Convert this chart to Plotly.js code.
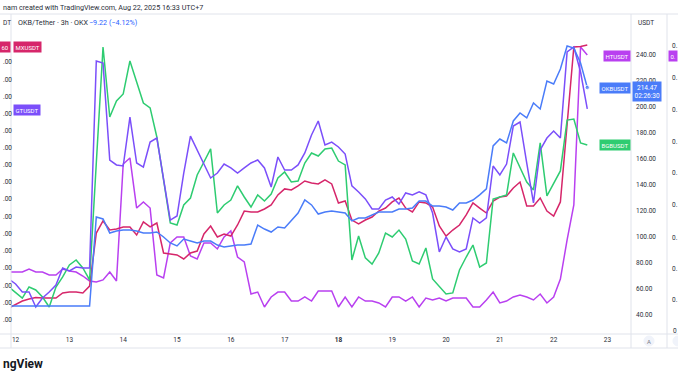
<!DOCTYPE html>
<html><head><meta charset="utf-8">
<script src="https://cdn.plot.ly/plotly-3.0.1.min.js"></script>
<style>html,body{margin:0;padding:0;background:#fff;overflow:hidden}#chart{width:678px;height:381px}</style>
</head><body><div id="chart"></div>
<script>
// ---- data (3h bars, first bar 2025-08-11 21:00) ----
const dayLabels = ['12','13','14','15','16','17','18','19','20','21','22','23'];
const priceTicks = [40,60,80,100,120,140,160,180,200,220,240];
const seriesNames = ['MXUSDT','GTUSDT','HTUSDT','BGBUSDT','OKBUSDT'];

const OKB = [46.7,46.7,46.7,46.7,46.7,46.7,46.7,46.7,46.7,46.7,46.7,46.7,46.7,
 115.0,113.5,102.7,104.3,105.0,105.0,104.3,102.7,102.7,103.5,
 99.7,95.1,92.8,98.1,96.6,95.1,96.6,96.6,93.5,92.0,
 92.8,93.5,93.5,94.3,108.9,105.8,103.5,107.4,106.6,112.7,
 118.1,128.1,124.3,117.3,118.9,119.6,118.9,118.1,112.0,114.3,
 114.3,116.6,118.9,118.9,118.9,121.2,121.2,121.9,127.3,127.3,
 123.5,123.5,122.7,120.4,125.8,125.8,128.1,132.0,136.6,169.6,
 174.9,171.9,188.8,194.9,191.1,202.6,198.0,219.5,217.2,228.7,
 246.4,244.8,233.3,214.47];

const MX = [45.2,47.9,50.5,52.1,53.2,52.8,52.8,52.8,56.7,57.4,57.4,56.7,62.0,
 102.7,112.0,105.0,105.8,107.4,107.4,101.2,111.2,107.4,110.4,
 87.4,86.6,85.9,82.8,87.4,88.9,102.0,108.1,99.7,102.0,
 100.4,108.9,119.6,118.9,118.9,121.2,124.3,132.0,136.6,135.8,
 138.9,142.7,141.2,140.4,143.5,140.4,125.8,127.3,112.7,109.7,
 112.7,115.0,119.6,121.9,126.6,129.6,121.9,118.9,126.6,125.8,
 122.7,108.1,100.4,105.0,108.9,116.6,125.8,121.9,118.1,127.3,
 130.4,131.2,137.3,141.9,123.5,123.5,129.6,119.6,115.8,126.6,
 186.0,245.6,246.0,247.2];

const GT = [67.4,63.6,57.4,57.4,45.9,52.8,57.4,62.8,75.9,73.6,76.6,75.9,75.9,
 234.9,233.3,158.8,155.0,154.2,191.8,156.5,153.4,172.6,175.7,
 145.8,112.7,115.8,148.8,177.2,166.5,155.0,145.0,148.8,155.7,
 152.7,148.8,152.7,156.5,158.8,152.7,138.1,161.1,151.1,151.1,
 155.0,164.2,178.0,188.8,170.3,172.6,168.8,163.4,138.9,134.3,
 128.9,121.2,121.2,128.1,130.4,125.0,133.5,132.0,134.3,132.0,
 118.1,88.2,99.7,90.5,88.2,90.5,114.3,110.4,114.3,154.2,
 147.3,155.7,184.9,188.0,156.5,125.8,166.5,175.7,181.1,175.7,
 241.8,245.6,226.4,198.0];

const HT = [72.8,72.8,72.8,75.1,72.8,72.8,70.5,70.5,75.1,73.6,72.8,69.7,65.9,
 65.1,66.7,72.8,65.9,155.7,160.4,121.9,126.6,121.9,70.5,
 68.2,95.1,99.7,99.7,85.1,82.8,95.1,95.1,90.5,99.7,
 104.3,84.3,80.5,55.9,57.4,45.9,53.6,57.4,57.4,50.5,
 50.5,53.6,50.5,58.2,58.2,58.2,45.9,53.6,45.9,53.6,
 50.5,50.5,49.0,45.9,53.6,53.6,50.5,53.6,45.9,52.8,
 51.3,52.8,50.5,52.8,52.8,52.8,45.9,45.9,51.3,57.4,
 49.0,50.5,53.6,55.1,53.6,51.3,55.9,49.0,53.6,67.4,
 97.4,124.3,245.6,239.5];

const BGB = [61.3,56.7,52.8,61.3,59.0,53.6,45.9,61.3,69.0,78.2,82.0,75.9,66.7,
 156.5,245.6,191.8,204.1,209.5,234.9,218.7,202.6,198.8,176.5,
 143.5,110.4,108.9,124.3,129.6,147.3,157.3,167.3,118.1,124.3,
 128.1,138.9,130.4,122.7,132.0,127.3,132.7,145.0,149.6,141.9,
 142.7,156.5,164.2,161.9,167.3,168.0,158.0,155.0,82.0,100.4,
 83.6,78.9,87.4,102.7,99.7,105.0,98.1,81.3,78.9,91.2,
 67.4,62.0,55.9,56.7,74.3,84.3,93.5,76.6,79.7,128.9,
 130.4,132.0,164.2,153.4,141.9,135.8,171.9,131.2,141.2,150.4,
 189.5,190.3,171.9,170.3];

// ---- styling ----
const COL = {MXUSDT:'#d6266a', GTUSDT:'#7b4ffa', HTUSDT:'#b940f0', BGBUSDT:'#2ecc71', OKBUSDT:'#4a7cf9'};
const FONT = 'Roboto, "Liberation Sans", Arial, sans-serif';
const TXT = '#2a2e39';
const GRID = '#e0e3eb';

const START_UTC = Date.UTC(2025,7,11,21,0);
const STEP_MS = 3*3600*1000;
const tstr = ms => new Date(ms).toISOString().slice(0,16).replace('T',' ');
const times = OKB.map((_, i) => tstr(START_UTC + i*STEP_MS));

const W=678, H=381, L=11, R=631, T=14, B=334;
const px = x => (x-L)/(R-L);
const py = y => (B-y)/(B-T);

function line(name, vals, lastMarker){
  const n = vals.length;
  const tr = {type:'scatter', mode:'lines', x: times, y: vals, name: name,
    line:{color:COL[name], width:1.5}, hoverinfo:'skip'};
  if (lastMarker) {
    tr.mode = 'lines+markers';
    tr.marker = {color:COL[name], size: vals.map((v,i)=> i===n-1?4.5:0)};
  }
  return tr;
}
const data = [
  line('HTUSDT', HT), line('MXUSDT', MX), line('BGBUSDT', BGB), line('GTUSDT', GT), line('OKBUSDT', OKB, true)
];

function txt(text, x, y, opts){
  const base = {xref:'paper', yref:'paper', x:px(x), y:py(y), text:text, showarrow:false,
    xanchor:'left', yanchor:'middle', font:{family:FONT, size:6.5, color:TXT}};
  return Object.assign(base, opts || {});
}
function box(text, x, y, bg, anchor){
  return txt(text, x, y, {xanchor:anchor || 'left', bgcolor:bg, borderpad:1.5, font:{family:FONT, size:6, color:'#ffffff'}});
}
function hl(y, x0, x1){ return {type:'line', xref:'paper', yref:'paper', x0:px(x0), x1:px(x1), y0:py(y), y1:py(y), line:{color:GRID, width:1}}; }
function vl(x, y0, y1){ return {type:'line', xref:'paper', yref:'paper', x0:px(x), x1:px(x), y0:py(y0), y1:py(y1), line:{color:GRID, width:1}}; }

const leftTickY = [62,80,97,114,131,148,165,182,199,217,234,251,268,286,303,320];
const farRightY = [46,78,110,142,173,205,238,269,300];
const HEAD = {family:FONT, size:7.2, color:TXT};

const annotations = [
  txt('nam created with TradingView.com, Aug 22, 2025 16:33 UTC+7', 1, 8, {font:HEAD}),
  txt('DT', 1, 23),
  txt('OKB/Tether · 3h · OKX', 16, 23, {font:HEAD}),
  txt('−9.22 (−4.12%)', 87, 23, {font:{family:FONT, size:7.2, color:'#2962ff'}}),
  txt('USDT', 636, 23),
  box('60', 10.5, 46.5, COL.MXUSDT, 'right'),
  box('MXUSDT', 12.5, 46.5, COL.MXUSDT),
  box('GTUSDT', 12.5, 110, COL.GTUSDT),
  box('HTUSDT', 603, 56, COL.HTUSDT),
  box('OKBUSDT', 599, 88, COL.OKBUSDT),
  box('BGBUSDT', 599, 145, COL.BGBUSDT),
  txt('214.47<br>02:26:30', 632, 91.5, {bgcolor:COL.OKBUSDT, borderpad:1.5, font:{family:FONT, size:6.5, color:'#ffffff'}}),
  box('0.', 668, 56, COL.HTUSDT),
  txt('<b>ngView</b>', 1, 364, {font:{family:FONT, size:12, color:'#131722'}}),
  txt('A', 649, 341, {xanchor:'center', font:{family:FONT, size:6, color:'#787b86'}}),
  txt('0', 671, 331)
];
leftTickY.forEach(y => annotations.push(txt('.00', 1, y)));
farRightY.forEach(y => annotations.push(txt('0.', 670, y)));

const shapes = [
  hl(14, 0, W), hl(334, 0, W), hl(348, 0, W),
  vl(L, 14, 348), vl(R, 14, 348), vl(667, 14, 348),
  {type:'circle', xref:'paper', yref:'paper', x0:px(644), x1:px(654), y0:py(336), y1:py(346), fillcolor:'#f0f3fa', line:{color:'#f0f3fa', width:1}, layer:'below'},
  {type:'circle', xref:'paper', yref:'paper', x0:px(673), x1:px(683), y0:py(336), y1:py(346), fillcolor:'#f0f3fa', line:{color:'#f0f3fa', width:1}, layer:'below'}
];

const layout = {
  width:W, height:H, margin:{l:L, r:W-R, t:T, b:H-B, pad:0},
  paper_bgcolor:'#ffffff', plot_bgcolor:'#ffffff', showlegend:false,
  font:{family:FONT, size:6.5, color:TXT},
  xaxis:{type:'date', range:['2025-08-11 21:57','2025-08-23 10:30'],
    tickmode:'array', tickvals: dayLabels.map(d => '2025-08-'+d),
    ticktext: dayLabels.map(d => d==='18' ? '<b>'+d+'</b>' : d),
    showgrid:false, zeroline:false, showline:false, ticks:'', tickfont:{family:FONT, size:6.5, color:TXT}},
  yaxis:{side:'right', range:[25.17, 270.95], tickmode:'array', tickvals: priceTicks,
    ticktext: priceTicks.map(v => v.toFixed(2)),
    showgrid:false, zeroline:false, showline:false, ticks:'', ticklabelstandoff:4,
    tickfont:{family:FONT, size:6.5, color:TXT}},
  annotations: annotations, shapes: shapes
};
Plotly.newPlot('chart', data, layout, {staticPlot:true, displayModeBar:false});
</script></body></html>
